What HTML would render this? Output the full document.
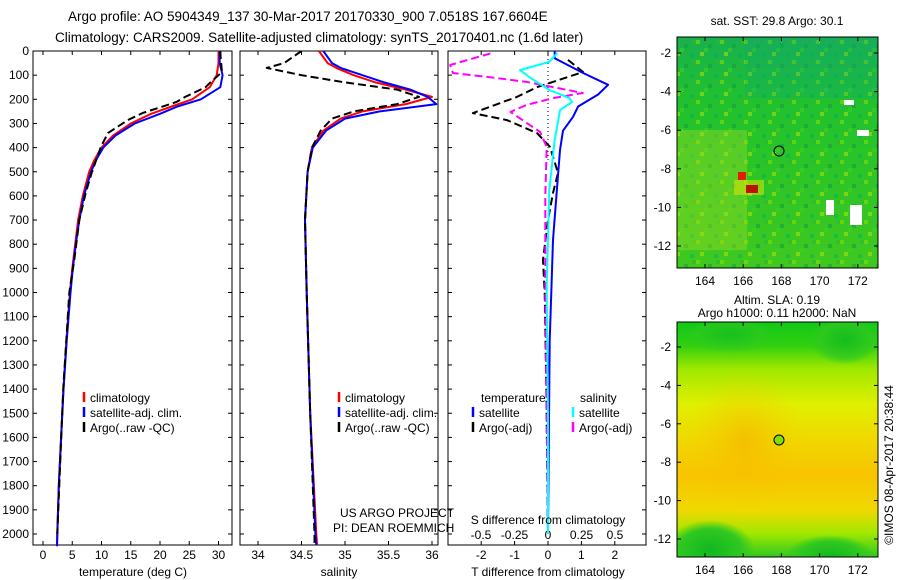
<!DOCTYPE html>
<html><head><meta charset="utf-8"><style>
body{margin:0;background:#fff;}
svg{display:block;font-family:"Liberation Sans",sans-serif;}
text{fill:#000;}
</style></head><body>
<svg id="fig" width="900" height="580" viewBox="0 0 900 580" xmlns="http://www.w3.org/2000/svg">
<defs>
<radialGradient id="blobG" cx="50%" cy="50%" r="50%"><stop offset="0" stop-color="#10b820"/><stop offset="0.7" stop-color="#30c820"/><stop offset="1" stop-color="#30c820" stop-opacity="0"/></radialGradient>
<radialGradient id="blobO" cx="50%" cy="50%" r="50%"><stop offset="0" stop-color="#f8b000"/><stop offset="1" stop-color="#f8c800" stop-opacity="0"/></radialGradient>
<linearGradient id="m2v" x1="0" y1="0" x2="0" y2="1"><stop offset="0" stop-color="#10c818"/><stop offset="0.1" stop-color="#30d010"/><stop offset="0.2" stop-color="#a0e800"/><stop offset="0.35" stop-color="#e0f000"/><stop offset="0.5" stop-color="#f0d800"/><stop offset="0.65" stop-color="#f8c400"/><stop offset="0.8" stop-color="#f0d800"/><stop offset="0.9" stop-color="#a0e800"/><stop offset="1" stop-color="#30c820"/></linearGradient>
<linearGradient id="m1v" x1="0" y1="0" x2="0" y2="1"><stop offset="0" stop-color="#18b050"/><stop offset="0.25" stop-color="#20c030"/><stop offset="0.5" stop-color="#28c428"/><stop offset="1" stop-color="#40c820"/></linearGradient>
<pattern id="speck" x="0" y="0" width="24" height="20" patternUnits="userSpaceOnUse">
<rect x="0" y="0" width="4" height="4" fill="#80e000" opacity="0.6"/><rect x="12" y="4" width="4" height="4" fill="#10a040" opacity="0.6"/>
<rect x="4" y="12" width="4" height="4" fill="#c0e800" opacity="0.5"/><rect x="18" y="14" width="4" height="4" fill="#00b060" opacity="0.5"/>
<rect x="8" y="8" width="4" height="4" fill="#40d020" opacity="0.6"/><rect x="20" y="0" width="4" height="4" fill="#30b830" opacity="0.6"/>
</pattern>
<clipPath id="cm1"><rect x="677" y="37" width="201" height="231"/></clipPath>
<clipPath id="cm2"><rect x="677" y="322" width="201" height="235"/></clipPath>
</defs>
<g id="titles" font-size="13.5">
<text x="68" y="21">Argo profile: AO 5904349_137 30-Mar-2017 20170330_900 7.0518S 167.6604E</text>
<text x="55" y="42">Climatology: CARS2009. Satellite-adjusted climatology: synTS_20170401.nc (1.6d later)</text>
</g>
<g id="p1"></g>
<g id="p2"></g>
<g id="p3"></g>
<g id="maps"></g>
<text transform="translate(893,465) rotate(-90)" text-anchor="middle" font-size="12">©IMOS 08-Apr-2017 20:38:44</text>
</svg>
<script>
const NS="http://www.w3.org/2000/svg";
// ---- data ----
const depthTicks=[0,100,200,300,400,500,600,700,800,900,1000,1100,1200,1300,1400,1500,1600,1700,1800,1900,2000];
const tempTicks=[0,5,10,15,20,25,30];
const salTicks=[34,34.5,35,35.5,36];
const salTickLabels=["34","34.5","35","35.5","36"];
const tdTicks=[-2,-1,0,1,2];
const sdTicks=[-0.5,-0.25,0,0.25,0.5];
const sdTickLabels=["-0.5","-0.25","0","0.25","0.5"];
const depths=[0,50,100,150,200,230,260,300,350,400,450,500,600,700,800,900,1000,1200,1400,1600,1800,2000,2050];
const tempClim=[30,30,29.7,28.5,25.5,22,18.5,15,12,10,8.8,7.9,6.8,6.0,5.5,5.0,4.6,4.0,3.5,3.1,2.7,2.45,2.4];
const tempSat=[30.2,30.2,30.7,30.3,27,23,20,15.7,12.4,10.3,9.1,8.2,7.0,6.2,5.6,5.1,4.7,4.05,3.5,3.1,2.7,2.45,2.4];
const argoDepths=[0,37,87,128,150,190,211,257,286,340,397,505,588,700,865,1000,1400,2000];
const tempArgo=[30.3,30.4,30.6,28.7,27.8,24.3,22.8,17.0,14.5,11.1,9.9,8.3,7.3,6.2,5.35,4.5,3.45,2.45];
const salDepths=[0,50,70,100,130,160,190,220,250,280,330,400,500,700,1000,1500,2000,2050];
const salClim=[34.7,34.8,34.9,35.1,35.35,35.7,36.0,35.7,35.2,34.95,34.75,34.62,34.57,34.54,34.56,34.6,34.67,34.68];
const salSat=[34.75,34.85,34.95,35.2,35.45,35.75,35.95,36.05,35.4,35.0,34.78,34.63,34.57,34.54,34.56,34.6,34.66,34.67];
const salArgo=[34.5,34.3,34.1,34.5,35.0,35.6,35.85,35.6,35.1,34.85,34.72,34.62,34.57,34.54,34.56,34.6,34.65,34.65];
const tdSatDepths=[0,30,91,140,180,230,273,330,410,600,783,1200,2000];
const tdSat=[0.2,0.2,1.05,1.8,1.5,0.9,0.75,0.45,0.36,0.25,0.15,0.05,0];
const tdArgoDepths=[37,87,128,150,190,211,257,286,340,397,505,588,700,865,1000,1400,2000];
const tdArgo=[0.6,1.05,0.15,-0.33,-0.93,-1.35,-2.25,-1.23,-0.33,0.06,0.3,0.15,0,-0.15,-0.1,-0.05,0];
const sdSatDepths=[8,45,79,112,161,195,211,244,368,575,977,1500,2000];
const sdSat=[0.07,0.01,-0.21,-0.13,0.01,0.16,0.18,0.09,0.05,0.01,-0.01,0,0];
const sdArgoDepths=[10,58,91,107,128,174,195,223,252,286,335,397,600,1000,1500,2000];
const sdArgo=[-0.43,-0.73,-0.71,-0.46,-0.16,0.26,0.04,-0.16,-0.28,-0.19,-0.06,-0.01,-0.02,-0.02,-0.01,0];
// ---- helpers ----
function el(tag,attrs,parent){const e=document.createElementNS(NS,tag);for(const k in attrs)e.setAttribute(k,attrs[k]);parent.appendChild(e);return e;}
const top0=51,bot=545;
const yD=d=>51+d*0.2415;
function frame(g,x0,x1,nm){
  const r=el('rect',{x:x0,y:top0,width:x1-x0,height:bot-top0,fill:'none',stroke:'#000','stroke-width':1},g);
  
  
}
function depthAxis(g,x0,x1,labels){
  depthTicks.forEach(d=>{
    const y=yD(d);
    el('line',{x1:x0,x2:x0+4,y1:y,y2:y,stroke:'#000'},g);
    el('line',{x1:x1,x2:x1-4,y1:y,y2:y,stroke:'#000'},g);
    if(labels){const t=el('text',{x:x0-4,y:y+4,'text-anchor':'end','font-size':12},g);t.textContent=d;
      
      }
  });
}
function xAxis(g,ticks,labs,sx,ytick,ylab){
  ticks.forEach((v,i)=>{const x=sx(v);
    el('line',{x1:x,x2:x,y1:ytick,y2:ytick-4,stroke:'#000'},g);
    el('line',{x1:x,x2:x,y1:top0,y2:top0+4,stroke:'#000'},g);
    const t=el('text',{x:x,y:ylab,'text-anchor':'middle','font-size':12},g);t.textContent=labs[i];
    
    
  });
}
function line(g,xs,ds,sx,color,dash,nm){
  const pts=xs.map((v,i)=>sx(v).toFixed(1)+','+yD(ds[i]).toFixed(1)).join(' ');
  const p=el('polyline',{points:pts,fill:'none',stroke:color,'stroke-width':2,'stroke-dasharray':dash||'none','stroke-linejoin':'round'},g);
  
  
}
function txt(g,x,y,s,nm,size,anchor){const t=el('text',{x:x,y:y,'font-size':size||12,'text-anchor':anchor||'start'},g);t.textContent=s;
  
  return t;}
function legend(g,x,y,items){
  items.forEach((it,i)=>{
    const m=el('line',{x1:x,x2:x,y1:y+i*15-10,y2:y+i*15,stroke:it[1],'stroke-width':2.5},g);
    
    
    txt(g,x+6,y+i*15,it[0],'legend-entry');
  });
}
// ---- panel 1 ----
const g1=document.getElementById('p1');
const sT=v=>43+v*5.85;
frame(g1,33,232,'temperature');depthAxis(g1,33,232,true);
xAxis(g1,tempTicks,tempTicks.map(String),sT,bot,559);
line(g1,tempClim,depths,sT,'#ff0000',null,'temp-climatology-line');
line(g1,tempSat,depths,sT,'#0000ff',null,'temp-satellite-line');
line(g1,tempArgo,argoDepths,sT,'#000',"8,4",'temp-argo-line');
txt(g1,133,576,'temperature (deg C)','x-axis-title',12,'middle');
legend(g1,84,402,[['climatology','#f00'],['satellite-adj. clim.','#00f'],['Argo(..raw -QC)','#000']]);
// ---- panel 2 ----
const g2=document.getElementById('p2');
const sS=v=>258+(v-34)*87;
frame(g2,240,438,'salinity');depthAxis(g2,240,438,false);
xAxis(g2,salTicks,salTickLabels,sS,bot,559);
const c2=el('clipPath',{id:'c2'},g2);el('rect',{x:240,y:51,width:198,height:494},c2);
const g2c=el('g',{'clip-path':'url(#c2)'},g2);
line(g2c,salClim,salDepths,sS,'#ff0000',null,'sal-climatology-line');
line(g2c,salSat,salDepths,sS,'#0000ff',null,'sal-satellite-line');
line(g2c,salArgo,salDepths,sS,'#000',"8,4",'sal-argo-line');
txt(g2,339,576,'salinity','x-axis-title',12,'middle');
legend(g2,339,402,[['climatology','#f00'],['satellite-adj. clim.','#00f'],['Argo(..raw -QC)','#000']]);
txt(g2,340,517,'US ARGO PROJECT','project-label');
txt(g2,333,532,'PI: DEAN ROEMMICH','pi-label');
// ---- panel 3 ----
const g3=document.getElementById('p3');
const sTD=v=>548+v*33.4;const sSD=v=>548+v*134;
frame(g3,448,646,'difference');depthAxis(g3,448,646,false);
xAxis(g3,tdTicks,tdTicks.map(String),sTD,bot,559);
sdTicks.forEach((v,i)=>txt(g3,sSD(v),539,sdTickLabels[i],'s-tick-label',12,'middle'));
el('line',{x1:548,x2:548,y1:51,y2:160,stroke:'#000','stroke-dasharray':'1,3'},g3);
const c3=el('clipPath',{id:'c3'},g3);el('rect',{x:448,y:51,width:198,height:494},c3);
const g3c=el('g',{'clip-path':'url(#c3)'},g3);
line(g3c,tdArgo,tdArgoDepths,sTD,'#000',"8,4",'tdiff-argo-line');
line(g3c,sdArgo,sdArgoDepths,sSD,'#ff00ff',"8,4",'sdiff-argo-line');
line(g3c,tdSat,tdSatDepths,sTD,'#0000ff',null,'tdiff-satellite-line');
line(g3c,sdSat,sdSatDepths,sSD,'#00ffff',null,'sdiff-satellite-line');
txt(g3,481,402,'temperature','legend-title');
txt(g3,580,402,'salinity','legend-title');
legend(g3,473,417,[['satellite','#00f'],['Argo(-adj)','#000']]);
legend(g3,573,417,[['satellite','#0ff'],['Argo(-adj)','#f0f']]);
txt(g3,548,524,'S difference from climatology','s-axis-title',12,'middle');
txt(g3,548,576,'T difference from climatology','t-axis-title',12,'middle');
// ---- maps ----
const gm=document.getElementById('maps');
const lonTicks=[164,166,168,170,172];const latTicks=[-2,-4,-6,-8,-10,-12];
function mapAxes(y0,y1,latTop,latStep,nm){
  const x0=677,x1=878;
  const sx=l=>705+(l-164)*19.1;const sy=la=>latTop+(-2-la)/2*latStep;
  lonTicks.forEach(l=>{el('line',{x1:sx(l),x2:sx(l),y1:y1,y2:y1-4,stroke:'#000'},gm);el('line',{x1:sx(l),x2:sx(l),y1:y0,y2:y0+4,stroke:'#000'},gm);
    txt(gm,sx(l),y1+17,String(l),nm+'-lon-label',12,'middle');});
  latTicks.forEach(la=>{el('line',{x1:x0,x2:x0+4,y1:sy(la),y2:sy(la),stroke:'#000'},gm);el('line',{x1:x1,x2:x1-4,y1:sy(la),y2:sy(la),stroke:'#000'},gm);
    txt(gm,x0-6,sy(la)+4,String(la),nm+'-lat-label',12,'end');});
  const r=el('rect',{x:x0,y:y0,width:x1-x0,height:y1-y0,fill:'none',stroke:'#000'},gm);
  
  
}
// map 1 (SST)
const m1=el('g',{'clip-path':'url(#cm1)'},gm);
let r1=el('rect',{x:677,y:37,width:201,height:231,fill:'url(#m1v)'},m1);


el('rect',{x:677,y:37,width:201,height:231,fill:'url(#speck)'},m1);
el('rect',{x:677,y:130,width:70,height:120,fill:'#a0dc20',opacity:0.4},m1);
el('rect',{x:745,y:38,width:132,height:60,fill:'#10a870',opacity:0.3},m1);
el('rect',{x:734,y:180,width:30,height:15,fill:'#e8e800',opacity:0.5},m1);
el('rect',{x:738,y:172,width:8,height:8,fill:'#e02000'},m1);
el('rect',{x:746,y:185,width:12,height:8,fill:'#c01000'},m1);
el('rect',{x:857,y:130,width:12,height:6,fill:'#fff'},m1);
el('rect',{x:826,y:200,width:8,height:15,fill:'#fff'},m1);
el('rect',{x:850,y:205,width:12,height:20,fill:'#fff'},m1);
el('rect',{x:844,y:100,width:10,height:5,fill:'#fff'},m1);
el('circle',{cx:779,cy:151,r:5,fill:'none',stroke:'#000'},gm);
mapAxes(37,268,53,38.6,'sst-map');
txt(gm,777,25,'sat. SST: 29.8 Argo: 30.1','sst-map-title',12,'middle');
// map 2 (SLA)
const m2=el('g',{'clip-path':'url(#cm2)'},gm);
let r2=el('rect',{x:677,y:322,width:201,height:235,fill:'url(#m2v)'},m2);


el('ellipse',{cx:710,cy:550,rx:45,ry:30,fill:'url(#blobG)'},m2);
el('ellipse',{cx:830,cy:557,rx:45,ry:22,fill:'url(#blobG)'},m2);
el('ellipse',{cx:745,cy:440,rx:60,ry:70,fill:'url(#blobO)',opacity:0.6},m2);
el('ellipse',{cx:845,cy:340,rx:35,ry:25,fill:'url(#blobG)',opacity:0.8},m2);
el('ellipse',{cx:730,cy:335,rx:45,ry:18,fill:'url(#blobG)',opacity:0.6},m2);
el('circle',{cx:779,cy:440,r:5,fill:'#80e000',stroke:'#000'},gm);
mapAxes(322,557,347,38.4,'sla-map');
txt(gm,777,304,'Altim. SLA: 0.19','sla-map-title',12,'middle');
txt(gm,777,317,'Argo h1000: 0.11 h2000: NaN','sla-map-subtitle',12,'middle');
</script>
</body></html>
